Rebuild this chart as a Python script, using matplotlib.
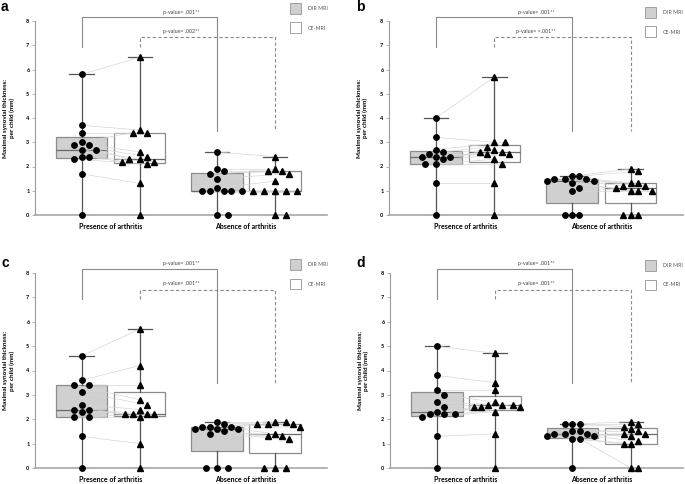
import numpy as np
import matplotlib
matplotlib.use("Agg")
import matplotlib.pyplot as plt
from matplotlib.patches import Rectangle

# values per child (index i = same child in DIR and CE)
a_dir_pres = [5.8, 3.7, 3.4, 3.0, 2.9, 2.9, 2.7, 2.7, 2.4, 2.4, 2.3, 1.7, 0.0]
a_ce_pres = [6.5, 3.5, 3.4, 3.4, 2.6, 2.4, 2.3, 2.3, 2.2, 2.2, 2.1, 1.3, 0.0]
a_dir_abs = [2.6, 1.9, 1.8, 1.7, 1.5, 1.1, 1.0, 1.0, 1.0, 1.0, 1.0, 0.0, 0.0]
a_ce_abs = [2.4, 1.9, 1.8, 1.8, 1.7, 1.4, 1.0, 1.0, 1.0, 1.0, 1.0, 0.0, 0.0]

b_dir_pres = [4.0, 3.2, 2.7, 2.6, 2.5, 2.4, 2.4, 2.4, 2.3, 2.1, 2.1, 1.3, 0.0]
b_ce_pres = [5.7, 3.0, 3.0, 2.8, 2.7, 2.6, 2.6, 2.5, 2.5, 2.3, 2.1, 1.3, 0.0]
b_dir_abs = [1.6, 1.6, 1.5, 1.5, 1.5, 1.4, 1.4, 1.3, 1.1, 1.0, 0.0, 0.0, 0.0]
b_ce_abs = [1.9, 1.8, 1.3, 1.3, 1.2, 1.2, 1.1, 1.0, 1.0, 1.0, 0.0, 0.0, 0.0]

c_dir_pres = [4.6, 3.6, 3.4, 3.4, 3.1, 2.6, 2.4, 2.4, 2.3, 2.1, 2.1, 1.3, 0.0]
c_ce_pres = [5.7, 4.2, 3.4, 2.8, 2.6, 2.4, 2.2, 2.2, 2.2, 2.2, 2.1, 1.0, 0.0]
c_dir_abs = [1.9, 1.8, 1.7, 1.7, 1.7, 1.6, 1.6, 1.6, 1.5, 1.4, 0.0, 0.0, 0.0]
c_ce_abs = [1.9, 1.9, 1.8, 1.8, 1.8, 1.7, 1.4, 1.3, 1.3, 1.2, 0.0, 0.0, 0.0]

d_dir_pres = [5.0, 3.8, 3.2, 3.0, 2.7, 2.5, 2.3, 2.2, 2.2, 2.2, 2.1, 1.3, 0.0]
d_ce_pres = [4.7, 3.5, 3.2, 2.7, 2.6, 2.6, 2.6, 2.5, 2.5, 2.5, 2.3, 1.4, 0.0]
d_dir_abs = [1.8, 1.8, 1.8, 1.5, 1.5, 1.4, 1.4, 1.4, 1.3, 1.3, 1.2, 1.2, 0.0]
d_ce_abs = [1.9, 1.8, 1.7, 1.6, 1.5, 1.4, 1.4, 1.3, 1.1, 1.0, 1.0, 0.0, 0.0]

panel_letters = ["a", "b", "c", "d"]
p_dir = [".001**", ".001**", ".001**", ".001**"]
p_ce = [".002**", "<.001**", ".001**", ".001**"]
categories = ["Presence of arthritis", "Absence of arthritis"]
legend_labels = ["DIR MRI", "CE-MRI"]
ylabel = "Maximal synovial thickness:\nper child (mm)"

panels = [
    (a_dir_pres, a_ce_pres, a_dir_abs, a_ce_abs),
    (b_dir_pres, b_ce_pres, b_dir_abs, b_ce_abs),
    (c_dir_pres, c_ce_pres, c_dir_abs, c_ce_abs),
    (d_dir_pres, d_ce_pres, d_dir_abs, d_ce_abs),
]

W, H = 685, 484
# axes boxes in pixels: left, top, right, bottom
ax_px = [(35, 21, 327, 215), (389, 21, 683, 215), (35, 273, 327, 468), (390, 273, 683, 468)]
legend_px = [(290, 3), (645, 7), (290, 259), (645, 260)]
letter_px = [(1, 0), (356, 0), (1, 256), (356, 256)]

plt.rcParams['font.family'] = ['Lato', 'DejaVu Sans']

GRAY_BOX = "#d0d0d0"
EDGE = "#8c8c8c"
DARK = "#555555"
OFF = 0.215


def fx(x):
    return x / W


def fy(y):
    return 1 - y / H


def quart_stats(vals):
    v = np.asarray(vals, dtype=float)
    q1, med, q3 = np.percentile(v, [25, 50, 75], method="weibull")
    return dict(med=med, q1=q1, q3=q3, whislo=v.min(), whishi=v.max())


def swarm(ax, center, vals, dist=7.2):
    # simple greedy beeswarm in pixel space
    tr = ax.transData
    inv = tr.inverted()
    cx = tr.transform((center, 0))[0]
    placed = []
    xs = np.zeros(len(vals))
    order = np.argsort(-np.asarray(vals), kind="stable")
    for i in order:
        ypx = tr.transform((center, vals[i]))[1]
        for k in range(60):
            off = ((k + 1) // 2) * dist / 2 * (1 if k % 2 else -1)
            xp = cx + off
            if all((xp - px) ** 2 + (ypx - py) ** 2 >= dist ** 2 for px, py in placed):
                break
        placed.append((xp, ypx))
        xs[i] = inv.transform((xp, ypx))[0]
    return xs


fig = plt.figure(figsize=(6.85, 4.84), dpi=100)

for n, (dp, cp, da, ca) in enumerate(panels):
    l, t, r, b = ax_px[n]
    ax = fig.add_axes([fx(l), fy(b), (r - l) / W, (b - t) / H])
    ax.set_xlim(0.44, 2.6)
    ax.set_ylim(0, 8)

    groups = [(1 - OFF, dp, GRAY_BOX, "o"), (1 + OFF, cp, "white", "^"),
              (2 - OFF, da, GRAY_BOX, "o"), (2 + OFF, ca, "white", "^")]
    xs_all = []
    for pos, vals, fc, mk in groups:
        ax.bxp([quart_stats(vals)], positions=[pos], widths=0.38, patch_artist=True,
               showfliers=False, capwidths=[0.18],
               boxprops=dict(facecolor=fc, edgecolor=EDGE, linewidth=0.9),
               whiskerprops=dict(color=DARK, linewidth=0.9),
               capprops=dict(color=DARK, linewidth=0.9),
               medianprops=dict(color="#6a6a6a", linewidth=0.9))
        xs_all.append(swarm(ax, pos, vals))

    # paired lines DIR -> CE
    for g in (0, 2):
        x1, x2 = xs_all[g], xs_all[g + 1]
        v1, v2 = groups[g][1], groups[g + 1][1]
        for i in range(len(v1)):
            ax.plot([x1[i], x2[i]], [v1[i], v2[i]], color="#d6d6d6", lw=0.5, zorder=3)

    for (pos, vals, fc, mk), xs in zip(groups, xs_all):
        ax.plot(xs, vals, linestyle="none", marker=mk, color="black",
                markersize=3.9 if mk == "o" else 4.2, zorder=4, clip_on=False)

    # significance brackets
    ax.plot([1 - OFF, 1 - OFF, 2 - OFF, 2 - OFF], [6.93, 8.15, 8.15, 3.47],
            color="#8a8a8a", lw=0.8, clip_on=False)
    ax.plot([1 + OFF, 1 + OFF, 2 + OFF, 2 + OFF], [6.93, 7.32, 7.32, 3.47],
            color="#8a8a8a", lw=0.8, ls=(0, (3, 2)), clip_on=False)
    ax.text(1.52, 8.37, "p-value= " + p_dir[n], fontsize=3.8, color="#444444",
            ha="center", va="center", clip_on=False)
    ax.text(1.52, 7.55, "p-value= " + p_ce[n], fontsize=3.8, color="#444444",
            ha="center", va="center", clip_on=False)

    for s in ("top", "right"):
        ax.spines[s].set_visible(False)
    ax.spines["left"].set_color("#9a9a9a")
    ax.spines["left"].set_linewidth(0.8)
    ax.spines["bottom"].set_color("#a8a8a8")
    ax.spines["bottom"].set_linewidth(1.2)
    ax.set_yticks(range(0, 9))
    ax.tick_params(axis="y", labelsize=4, length=2, width=0.5, color="#9a9a9a", pad=2)
    for lab in ax.get_yticklabels():
        lab.set_fontweight("bold")
    ax.set_xticks([1, 2])
    ax.set_xticklabels(categories, fontsize=5, fontweight="bold")
    ax.tick_params(axis="x", length=0, pad=6)
    ax.set_ylabel(ylabel, fontsize=4.6, fontweight="bold", linespacing=1.2)
    ax.yaxis.set_label_coords(-0.07, 0.5)

    # legend squares
    lx, ly = legend_px[n]
    for k, (fc, txt) in enumerate(zip([GRAY_BOX, "white"], legend_labels)):
        top = ly + k * 19.5
        fig.add_artist(Rectangle((fx(lx), fy(top + 10.5)), 10.5 / W, 10.5 / H,
                                 transform=fig.transFigure, facecolor=fc,
                                 edgecolor="#a0a0a0", linewidth=0.7))
        fig.text(fx(lx + 18), fy(top + 5.5), txt, fontsize=3.8, color="#555555",
                 ha="left", va="center")

    px_, py_ = letter_px[n]
    fig.text(fx(px_), fy(py_), panel_letters[n], fontsize=10, fontweight="bold",
             family="Liberation Sans", ha="left", va="top")

fig.savefig("out.png", dpi=100, facecolor="white")
